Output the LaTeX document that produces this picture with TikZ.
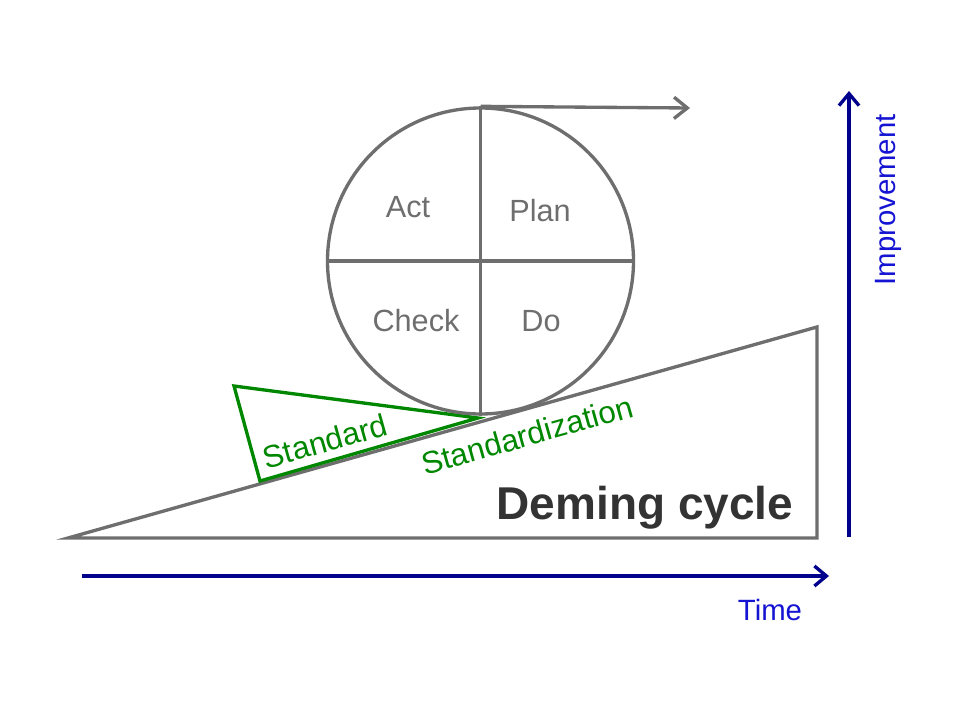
\documentclass[tikz,border=0pt]{standalone}
\usepackage{fontspec}
\setmainfont{Liberation Sans}
\usetikzlibrary{arrows.meta}
\definecolor{lgray}{RGB}{110,110,110}
\definecolor{dgreen}{RGB}{0,135,0}
\definecolor{navy}{RGB}{0,0,140}
\definecolor{tblue}{RGB}{20,20,210}
\definecolor{dtext}{RGB}{51,51,51}
\begin{document}
\begin{tikzpicture}[x=0.75pt,y=-0.75pt,
  grayline/.style={draw=lgray,line width=2.5pt,line join=miter},
  greenline/.style={draw=dgreen,line width=2.5pt,line join=miter},
  bluearrow/.style={draw=navy,line width=2.5pt,-{Straight Barb[length=9pt,width=15pt,line width=2.5pt]}},
  quad/.style={text=lgray,font=\fontsize{23}{27}\selectfont},
  greentext/.style={text=dgreen,font=\fontsize{23.5}{27}\selectfont,rotate=15.73},
  bluetext/.style={text=tblue,font=\fontsize{22}{26}\selectfont}]
\useasboundingbox (0,0) rectangle (960,706);
% wedge
\coordinate (wl) at (68,538);
\coordinate (wr) at (817,538);
\coordinate (wt) at (817,327);
\draw[grayline] (wl) -- (wr) -- (wt) -- cycle;
% green triangle
\coordinate (ga) at (234,386);
\coordinate (gb) at (260,481);
\coordinate (gc) at (478,418);
\draw[greenline] (ga) -- (gb) -- (gc) -- cycle;
% circle
\node[circle,grayline,minimum size=229.5pt,inner sep=0pt] (c) at (480.5,261) {};
\draw[grayline] (c.north) -- (c.south);
\draw[grayline] (c.west) -- (c.east);
\coordinate (ae) at (690,108);
\draw[grayline,-{Straight Barb[length=10pt,width=16pt,line width=2.5pt]}] (c.north) -- (ae);
% quadrant labels
\node[quad] (act) at (408,207) {Act};
\node[quad] (plan) at (540,211) {Plan};
\node[quad] (check) at (416,321) {Check};
\node[quad] (do) at (541,321) {Do};
% green labels
\node[greentext] (std) at (325,441) {Standard};
\node[greentext] (stdz) at (527,435) {Standardization};
% title
\node[text=dtext,font=\bfseries\fontsize{34.5}{40}\selectfont] (title) at (645,508) {Deming cycle};
% axes
\coordinate (t0) at (82,576);
\coordinate (t1) at (829,576);
\draw[bluearrow] (t0) -- (t1);
\coordinate (i0) at (849,537);
\coordinate (i1) at (849,91);
\draw[bluearrow] (i0) -- (i1);
\node[bluetext] (time) at (770,610) {Time};
\node[bluetext,rotate=90] (impr) at (888,200) {Improvement};
\end{tikzpicture}
\end{document}
